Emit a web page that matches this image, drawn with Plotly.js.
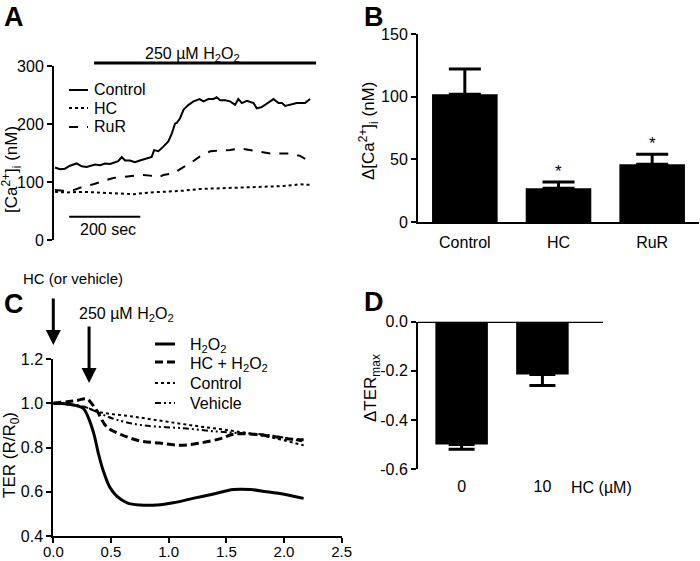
<!DOCTYPE html>
<html><head><meta charset="utf-8">
<script src="https://cdn.plot.ly/plotly-3.0.1.min.js"></script>
<style>html,body{margin:0;padding:0;background:#fff}#chart{width:700px;height:561px}</style>
</head><body><div id="chart"></div>
<script>
// ---------- Panel A: [Ca2+]i traces (time in s) ----------
const aCtrlTime = [0,14,28,42,61,75,89,113,127,141,155,169,178,188,197,211,225,239,258,272,279,291,305,319,329,338,343,352,362,376,390,407,418,432,446,455,465,479,493,507,516,526,540,559,568,582,596,615,629,639,648,662,681,704,718];
const aCtrlCa   = [125,122,123,128,132,127,126,130,129,132,131,134,136,143,137,137,134,137,140,143,155,153,161,170,184,201,202,210,225,233,239,243,239,243,243,246,241,241,239,233,243,236,240,236,227,229,235,243,236,236,231,233,236,236,243];
const aRuRTime  = [0,23,52,80,108,136,164,193,221,249,268,291,305,333,357,380,408,437,465,493,521,549,577,606,634,662,690,718];
const aRuRCa    = [86,85,86,92,96,101,107,109,111,112,111,108,112,115,124,132,144,153,154,155,158,155,153,149,149,149,145,135];
const aHCTime   = [0,33,80,127,174,221,268,315,362,408,455,502,549,596,643,690,718];
const aHCCa     = [83,82,83,82,81,79,82,83,85,88,89,89,91,92,93,96,95];
const aSeries   = ['Control','HC','RuR'];
const aDash     = ['solid','dot','dash'];
const h2o2Start = 110, recEnd = 735, scaleBarSec = 200;

// ---------- Panel B: delta [Ca2+]i ----------
const bCats = ['Control','HC','RuR'];
const bVals = [102, 27, 46];
const bErr  = [20, 5, 8];
const bSig  = ['', '*', '*'];

// ---------- Panel C: TER (R/R0) vs time (h) ----------
const cH2O2Time = [0,0.12,0.2,0.26,0.30,0.35,0.39,0.43,0.49,0.55,0.64,0.75,0.90,1.04,1.21,1.39,1.56,1.71,1.85,1.99,2.17];
const cH2O2Ter  = [1.0,0.997,0.989,0.977,0.94,0.865,0.775,0.70,0.62,0.58,0.55,0.54,0.54,0.55,0.57,0.59,0.61,0.61,0.60,0.59,0.57];
const cHCTime   = [0,0.12,0.2,0.29,0.33,0.38,0.46,0.58,0.75,0.92,1.10,1.27,1.45,1.56,1.73,1.91,2.02,2.17];
const cHCTer    = [1.0,1.007,1.012,1.02,1.0,0.965,0.895,0.86,0.83,0.82,0.81,0.82,0.84,0.86,0.86,0.85,0.84,0.835];
const cCtrlTime = [0,0.26,0.40,0.69,0.98,1.27,1.56,1.85,2.17];
const cCtrlTer  = [1.0,0.985,0.96,0.94,0.917,0.895,0.875,0.85,0.81];
const cVehTime  = [0,0.26,0.40,0.55,0.78,1.13,1.42,1.62,1.85,2.17];
const cVehTer   = [1.0,0.985,0.955,0.925,0.90,0.887,0.872,0.865,0.857,0.827];
const cSeries   = ['H<sub>2</sub>O<sub>2</sub>','HC + H<sub>2</sub>O<sub>2</sub>','Control','Vehicle'];
const cDash     = ['solid','8px,4px','dot','6px,3px,2px,3px,2px,3px'];
const cWidth    = [3,3,2,2];
const hcAddTime = 0, h2o2AddTime = 0.31;

// ---------- Panel D: delta TER max ----------
const dCats = ['0','10'];
const dVals = [-0.50, -0.215];
const dErr  = [0.02, 0.045];
const dSig  = ['', '*'];

// ---------- tick labels ----------
const aTicks = [0,100,200,300], aTickText = ['0','100','200','300'];
const bTicks = [0,50,100,150],  bTickText = ['0','50','100','150'];
const cXTicks = [0,0.5,1,1.5,2,2.5], cXTickText = ['0.0','0.5','1.0','1.5','2.0','2.5'];
const cYTicks = [0.4,0.6,0.8,1.0,1.2], cYTickText = ['0.4','0.6','0.8','1.0','1.2'];
const dTicks = [-0.6,-0.4,-0.2,0], dTickText = ['-0.6','-0.4','-0.2','0.0'];

const W = 700, H = 561;
const px = x => x / W, py = y => 1 - y / H;
const FONT = 'Arial, "Liberation Sans", sans-serif';

const aData = [[aCtrlTime,aCtrlCa],[aHCTime,aHCCa],[aRuRTime,aRuRCa]];
const cData = [[cH2O2Time,cH2O2Ter],[cHCTime,cHCTer],[cCtrlTime,cCtrlTer],[cVehTime,cVehTer]];

const traces = [];
aData.forEach((d,i)=>traces.push({x:d[0], y:d[1], xaxis:'x', yaxis:'y', type:'scatter', mode:'lines', name:aSeries[i], showlegend:false,
  line:{color:'#000', width:2, dash:aDash[i]}}));
traces.push({x:bCats, y:bVals, xaxis:'x2', yaxis:'y2', type:'bar', width:0.7, marker:{color:'#000'}, showlegend:false, name:'Δ[Ca2+]i',
  error_y:{type:'data', symmetric:false, array:bErr, arrayminus:bErr.map(()=>0), color:'#000', thickness:3, width:16}});
cData.forEach((d,i)=>traces.push({x:d[0], y:d[1], xaxis:'x3', yaxis:'y3', type:'scatter', mode:'lines', name:cSeries[i], showlegend:false,
  line:{color:'#000', width:cWidth[i], dash:cDash[i], shape:'spline'}}));
traces.push({x:dCats, y:dVals, xaxis:'x4', yaxis:'y4', type:'bar', width:0.65, marker:{color:'#000'}, showlegend:false, name:'ΔTERmax',
  error_y:{type:'data', symmetric:false, array:dErr.map(()=>0), arrayminus:dErr, color:'#000', thickness:3, width:13}});

const yStyle = {showline:true, linewidth:2, linecolor:'#000', ticks:'outside', ticklen:5, tickwidth:2, tickcolor:'#000',
  showgrid:false, zeroline:false, automargin:false, tickfont:{size:16, family:FONT, color:'#000'}};

const annotations = [];
const shapes = [];
const txt = (text, x, y, opts) => annotations.push(Object.assign({text, xref:'paper', yref:'paper', x:px(x), y:py(y),
  xanchor:'center', yanchor:'middle', showarrow:false, font:{size:16}}, opts||{}));

// panel letters
txt('<b>A</b>', 2, 0, {xanchor:'left', yanchor:'top', font:{size:27}});
txt('<b>B</b>', 362, 0, {xanchor:'left', yanchor:'top', font:{size:27}});
txt('<b>C</b>', 2, 304, {xanchor:'left', font:{size:27}});
txt('<b>D</b>', 362, 302, {xanchor:'left', font:{size:27}});
// y-axis titles
txt('[Ca<sup>2+</sup>]<sub>i</sub> (nM)', 12, 170, {textangle:-90, font:{size:17}});
txt('Δ[Ca<sup>2+</sup>]<sub>i</sub> (nM)', 368, 131, {textangle:-90, font:{size:17}});
txt('TER (R/R<sub>0</sub>)', 11, 455, {textangle:-90, font:{size:17}});
txt('ΔTER<sub>max</sub>', 372, 388, {textangle:-90, font:{size:17}});

// panel A decorations
txt('250 µM H<sub>2</sub>O<sub>2</sub>', 192, 55);
shapes.push({type:'line', xref:'x', yref:'paper', x0:h2o2Start, x1:recEnd, y0:py(63), y1:py(63), line:{color:'#000', width:3}});
shapes.push({type:'line', xref:'x', yref:'y', x0:40, x1:40+scaleBarSec, y0:40, y1:40, line:{color:'#000', width:2}});
annotations.push({text:scaleBarSec + ' sec', xref:'x', yref:'paper', x:150, y:py(229), xanchor:'center', yanchor:'middle', showarrow:false, font:{size:16}});
// panel A legend
const aLegY = [90,108,127];
aSeries.forEach((s,i)=>{
  shapes.push({type:'line', xref:'paper', yref:'paper', x0:px(69), x1:px(88), y0:py(aLegY[i]), y1:py(aLegY[i]), line:{color:'#000', width:2, dash:aDash[i]}});
  txt(s, 92, aLegY[i], {xanchor:'left'});
});

// asterisks B
bSig.forEach((s,i)=>{ if(s) annotations.push({text:s, xref:'x2', yref:'y2', x:bCats[i], y:bVals[i]+bErr[i], yanchor:'bottom', yshift:-1, showarrow:false, font:{size:17}}); });
// asterisks D
dSig.forEach((s,i)=>{ if(s) annotations.push({text:s, xref:'x4', yref:'y4', x:dCats[i], y:dVals[i]-dErr[i], yanchor:'top', yshift:-6, showarrow:false, font:{size:17}}); });
// D axis label
txt('HC (µM)', 601, 487);
shapes.push({type:'line', xref:'x4 domain', yref:'y4', x0:0, x1:1, y0:0, y1:0, line:{color:'#000', width:2.5}});

// C arrows + labels
annotations.push({text:'', xref:'x3', yref:'paper', x:hcAddTime, y:py(345), ax:0, ay:-48, showarrow:true, arrowhead:2, arrowsize:1, arrowwidth:3, arrowcolor:'#000'});
annotations.push({text:'', xref:'x3', yref:'paper', x:h2o2AddTime, y:py(383), ax:0, ay:-58, showarrow:true, arrowhead:2, arrowsize:1, arrowwidth:3, arrowcolor:'#000'});
txt('HC (or vehicle)', 73, 278, {font:{size:15}});
txt('250 µM H<sub>2</sub>O<sub>2</sub>', 126, 314);
// panel C legend
const cLegY = [344,362,383,403];
cSeries.forEach((s,i)=>{
  shapes.push({type:'line', xref:'paper', yref:'paper', x0:px(155), x1:px(175), y0:py(cLegY[i]), y1:py(cLegY[i]), line:{color:'#000', width:cWidth[i], dash:cDash[i]}});
  txt(s, 188, cLegY[i] + (i<2 ? 2 : 0), {xanchor:'left'});
});

const layout = {
  width:W, height:H, margin:{l:0,r:0,t:0,b:0}, paper_bgcolor:'#fff', plot_bgcolor:'rgba(0,0,0,0)',
  font:{family:FONT, size:16, color:'#000'}, showlegend:false,
  xaxis:{domain:[px(54),px(320)], range:[-2.8,746], visible:false, anchor:'y'},
  yaxis:Object.assign({}, yStyle, {domain:[py(240),py(66)], range:[0,300], tickvals:aTicks, ticktext:aTickText, anchor:'x'}),
  xaxis2:{domain:[px(418),px(699)], range:[-0.5,2.5], anchor:'y2', type:'category', showline:true, linewidth:2, linecolor:'#000',
    ticks:'outside', ticklen:5, tickcolor:'rgba(0,0,0,0)', showgrid:false, zeroline:false, tickfont:{size:16}},
  yaxis2:Object.assign({}, yStyle, {domain:[py(222),py(34)], range:[0,150], tickvals:bTicks, ticktext:bTickText, anchor:'x2'}),
  xaxis3:Object.assign({}, yStyle, {domain:[px(53.3),px(341.7)], range:[0,2.5], tickvals:cXTicks, ticktext:cXTickText, anchor:'y3',
    ticklabelstandoff:-4, tickfont:{size:15, family:FONT, color:'#000'}}),
  yaxis3:Object.assign({}, yStyle, {domain:[py(536),py(359)], range:[0.4,1.2], tickvals:cYTicks, ticktext:cYTickText, anchor:'x3'}),
  xaxis4:{domain:[px(418),px(603)], range:[-0.54,1.75], anchor:'y4', type:'category', showline:false,
    ticks:'outside', ticklen:3, tickcolor:'rgba(0,0,0,0)', showgrid:false, zeroline:false, tickfont:{size:16}},
  yaxis4:Object.assign({}, yStyle, {domain:[py(469),py(321.7)], range:[-0.6,0], tickvals:dTicks, ticktext:dTickText, anchor:'x4'}),
  annotations, shapes
};

Plotly.newPlot('chart', traces, layout, {displayModeBar:false, staticPlot:true});
</script></body></html>
